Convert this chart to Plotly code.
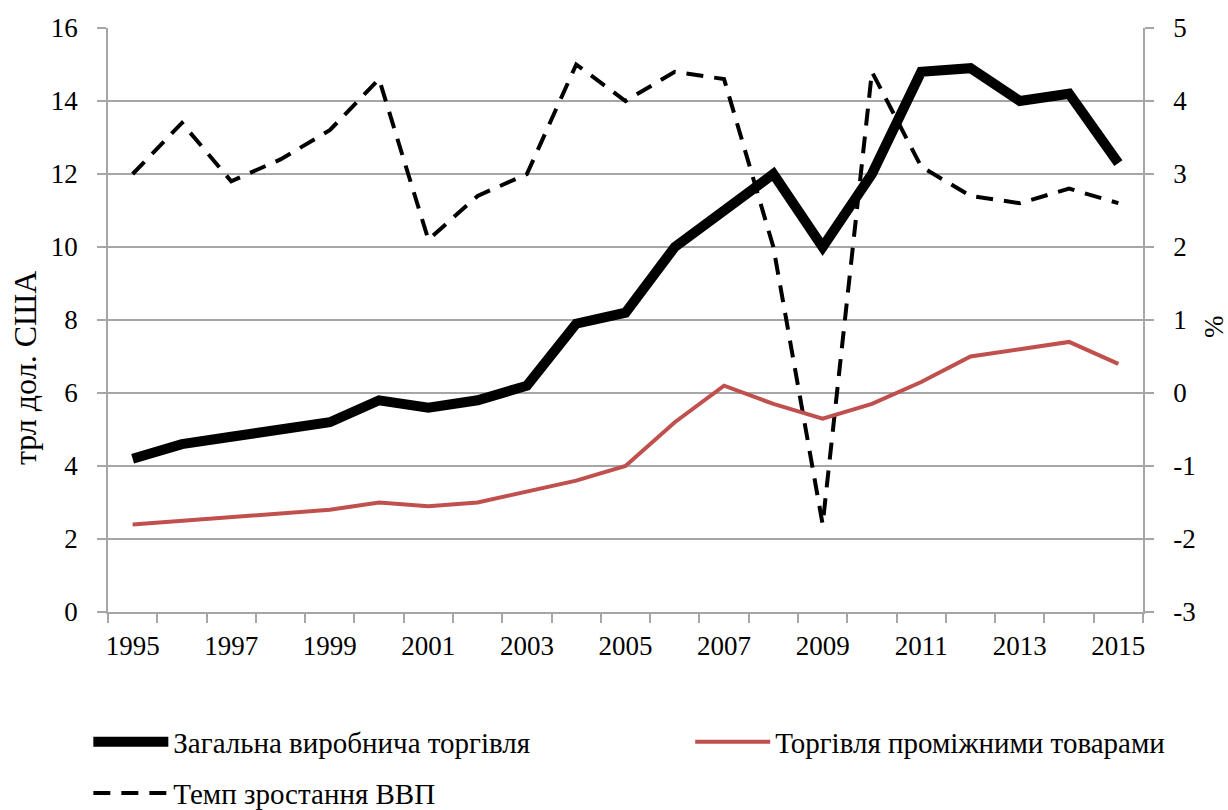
import plotly.graph_objects as go

# Data
years = list(range(1995, 2016))
total_trade = [4.2, 4.6, 4.8, 5.0, 5.2, 5.8, 5.6, 5.8, 6.2, 7.9, 8.2,
               10.0, 11.0, 12.0, 10.0, 12.0, 14.8, 14.9, 14.0, 14.2, 12.3]
intermediate_trade = [2.4, 2.5, 2.6, 2.7, 2.8, 3.0, 2.9, 3.0, 3.3, 3.6, 4.0,
                      5.2, 6.2, 5.7, 5.3, 5.7, 6.3, 7.0, 7.2, 7.4, 6.8]
gdp_growth = [3.0, 3.7, 2.9, 3.2, 3.6, 4.3, 2.1, 2.7, 3.0, 4.5, 4.0,
              4.4, 4.3, 2.0, -1.8, 4.4, 3.1, 2.7, 2.6, 2.8, 2.6]
year_labels = [str(y) for y in range(1995, 2016, 2)]
pct_ticks = [-3, -2, -1, 0, 1, 2, 3, 4, 5]
pct_labels = ["-3", "-2", "-1", "0", "1", "2", "3", "4", "5"]

font_family = "Liberation Serif"
grey = "#a6a6a6"

fig = go.Figure()

# GDP growth on the percent axis (drawn underneath the trade lines)
fig.add_trace(go.Scatter(
    x=years, y=gdp_growth, mode="lines", name="Темп зростання ВВП",
    line=dict(color="black", width=4, dash="17px,11px"),
    yaxis="y", legend="legend3"))

# Trade series on the trillion-dollar axis
fig.add_trace(go.Scatter(
    x=years, y=total_trade, mode="lines", name="Загальна виробнича торгівля",
    line=dict(color="black", width=10), yaxis="y2", legend="legend"))
fig.add_trace(go.Scatter(
    x=years, y=intermediate_trade, mode="lines", name="Торгівля проміжними товарами",
    line=dict(color="#c0504d", width=4), yaxis="y2", legend="legend2"))

legend_style = dict(orientation="h", xanchor="left", yanchor="middle",
                    itemwidth=75, font=dict(size=29),
                    bgcolor="rgba(0,0,0,0)")

fig.update_layout(
    width=1228, height=810,
    margin=dict(l=108, r=85, t=28, b=198, autoexpand=False),
    plot_bgcolor="white", paper_bgcolor="white",
    font=dict(family=font_family, size=27, color="black"),
    showlegend=True,
    xaxis=dict(
        range=[1994.5, 2015.5], tickvals=[int(v) for v in year_labels],
        ticktext=year_labels, ticks="", showgrid=False,
        showline=True, linecolor=grey, linewidth=1.5,
        minor=dict(tick0=1994.5, dtick=1, ticks="outside", ticklen=9,
                   tickcolor=grey, tickwidth=1.5, showgrid=False),
        ticklabelstandoff=9,
    ),
    yaxis=dict(
        side="right", range=[-3, 5], tickvals=pct_ticks, ticktext=pct_labels,
        showgrid=True, gridcolor=grey, gridwidth=1.5, zeroline=False,
        showline=True, linecolor=grey, linewidth=1.5,
        ticks="outside", ticklen=9, tickcolor=grey, tickwidth=1.5,
        ticklabelstandoff=14,
    ),
    yaxis2=dict(
        side="left", overlaying="y", range=[0, 16], dtick=2,
        showgrid=False, zeroline=False,
        showline=True, linecolor=grey, linewidth=1.5,
        ticks="outside", ticklen=9, tickcolor=grey, tickwidth=1.5,
        ticklabelstandoff=14,
    ),
    legend=dict(legend_style, x=-0.019, y=-0.2226),
    legend2=dict(legend_style, x=0.5625, y=-0.2226),
    legend3=dict(legend_style, x=-0.019, y=-0.310),
    annotations=[
        dict(text="трл дол. США", xref="paper", yref="paper",
             x=-0.080, y=0.418, textangle=-90, showarrow=False,
             xanchor="center", yanchor="middle", font=dict(size=32)),
        dict(text="%", xref="paper", yref="paper",
             x=1.0686, y=0.488, textangle=-90, showarrow=False,
             xanchor="center", yanchor="middle", font=dict(size=27)),
    ],
)

# Drop the browser's default page margin so the figure sits at the corner.
fig.write_html("out.html", config={"displayModeBar": False},
               post_script="document.body.style.margin='0';")
